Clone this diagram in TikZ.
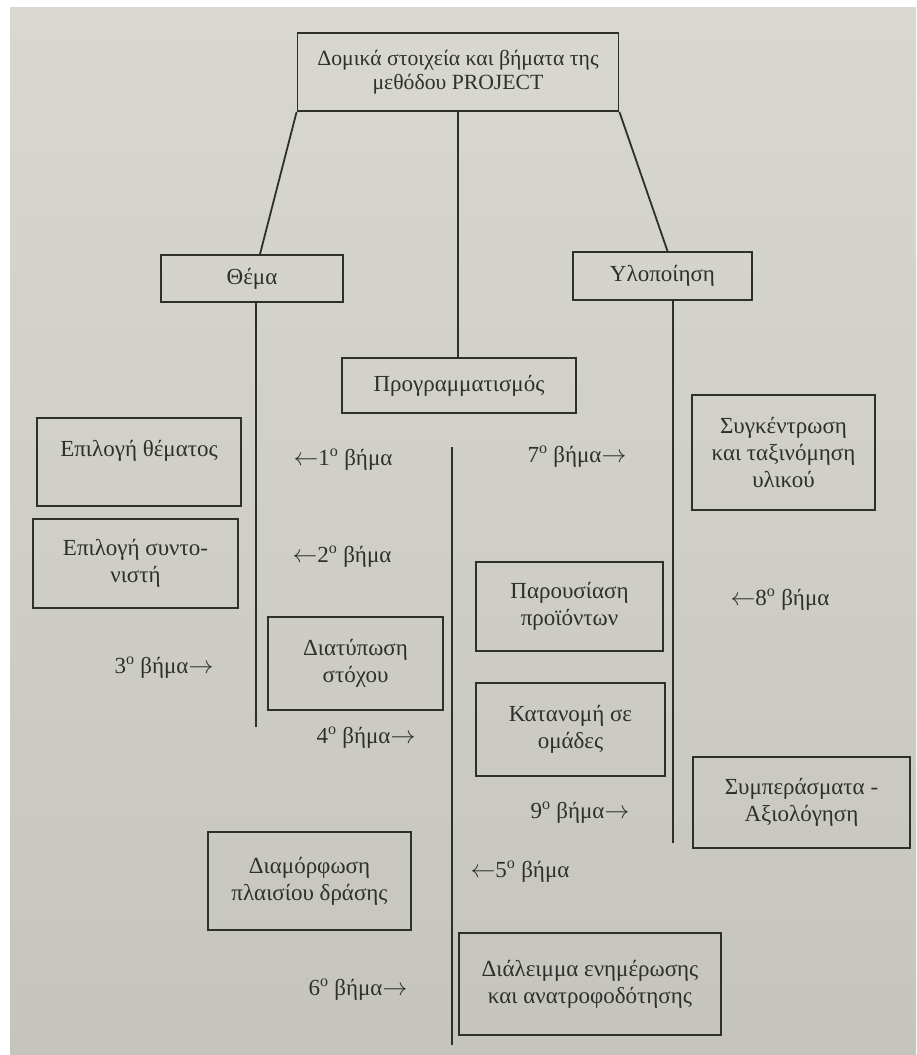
\documentclass[tikz,border=0pt]{standalone}
\usepackage{fontspec}
\setmainfont{Liberation Serif}
\usetikzlibrary{calc}
\definecolor{ink}{HTML}{2F2F2D}
\definecolor{pagetop}{HTML}{D8D8D1}
\definecolor{pagebot}{HTML}{C6C5BD}
\newcommand{\la}{$\leftarrow$}
\newcommand{\ra}{$\rightarrow$}
\begin{document}
\begin{tikzpicture}[x=1pt,y=-1pt,
  box/.style={draw=ink, line width=1.8pt, text=ink, align=center, inner sep=0pt,
    font=\fontsize{23}{27}\selectfont},
  lbl/.style={text=ink, inner sep=0pt, font=\fontsize{23}{27}\selectfont},
  conn/.style={draw=ink, line width=1.8pt}]
\useasboundingbox (0,0) rectangle (916,1055);
\fill[white] (0,0) rectangle (916,1055);
\shade[top color=pagetop, bottom color=pagebot] (10,7) rectangle (916,1055);

% boxes
\node[box, minimum width=321pt, minimum height=78pt, font=\fontsize{21.7}{24}\selectfont] (top) at (458,72)
  {Δομικά στοιχεία και βήματα της\\μεθόδου PROJECT};
\node[box, minimum width=182pt, minimum height=47pt] (thema) at (252,278.5) {Θέμα};
\node[box, minimum width=179pt, minimum height=48pt] (ylo) at (662.5,276) {Υλοποίηση};
\node[box, minimum width=234pt, minimum height=55pt] (prog) at (459,385.5) {Προγραμματισμός};
\node[box, minimum width=204pt, minimum height=88pt] (epith) at (139,462)
  {Επιλογή θέματος\\\mbox{}};
\node[box, minimum width=205pt, minimum height=89pt] (episyn) at (135.5,563.5)
  {Επιλογή συντο-\\νιστή};
\node[box, minimum width=175pt, minimum height=93pt] (diat) at (355.5,663.5)
  {Διατύπωση\\στόχου};
\node[box, minimum width=183pt, minimum height=115pt] (syg) at (783.5,452.5)
  {Συγκέντρωση\\και ταξινόμηση\\υλικού};
\node[box, minimum width=187pt, minimum height=89pt] (parous) at (569.5,606.5)
  {Παρουσίαση\\προϊόντων};
\node[box, minimum width=189pt, minimum height=93pt] (katan) at (570.5,729.5)
  {Κατανομή σε\\ομάδες};
\node[box, minimum width=217pt, minimum height=91pt] (symp) at (801.5,802.5)
  {Συμπεράσματα -\\Αξιολόγηση};
\node[box, minimum width=203pt, minimum height=98pt] (diam) at (309.5,881)
  {Διαμόρφωση\\πλαισίου δράσης};
\node[box, minimum width=262pt, minimum height=102pt] (dial) at (590,984)
  {Διάλειμμα ενημέρωσης\\και ανατροφοδότησης};

% connectors
\draw[conn] (top.south west) -- ([xshift=8pt]thema.north);
\draw[conn] (top.south) -- (top.south |- prog.north);
\draw[conn] (top.south east) -- ([xshift=5pt]ylo.north);
\coordinate (lend) at (256,727);
\draw[conn] (thema.south -| lend) -- (lend);
\coordinate (rend) at (673,843);
\draw[conn] (ylo.south -| rend) -- (rend);
\coordinate (mtop) at (452,447);
\coordinate (mbot) at (452,1045);
\draw[conn] (mtop) -- (mbot);

% step labels
\node[lbl] (s1) at (343,460) {\la1\textsuperscript{o} βήμα};
\node[lbl] (s2) at (342,557) {\la2\textsuperscript{o} βήμα};
\node[lbl] (s3) at (164,668) {3\textsuperscript{o} βήμα\ra};
\node[lbl] (s4) at (366,738) {4\textsuperscript{o} βήμα\ra};
\node[lbl] (s5) at (520,872) {\la5\textsuperscript{o} βήμα};
\node[lbl] (s6) at (358,990) {6\textsuperscript{o} βήμα\ra};
\node[lbl] (s7) at (577,457) {7\textsuperscript{o} βήμα\ra};
\node[lbl] (s8) at (780,600) {\la8\textsuperscript{o} βήμα};
\node[lbl] (s9) at (580,813) {9\textsuperscript{o} βήμα\ra};
\end{tikzpicture}
\end{document}
